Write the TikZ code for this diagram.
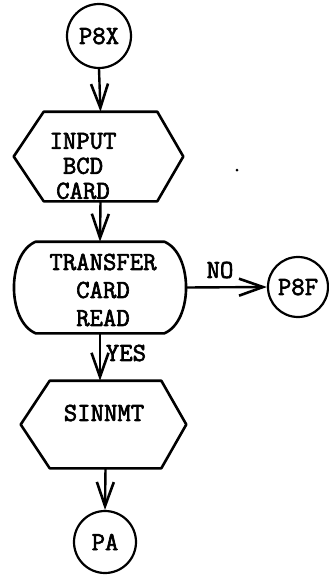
\documentclass[tikz,border=0pt]{standalone}
\usepackage{fontspec}
\usetikzlibrary{arrows.meta,calc}
\newfontfamily\twfont{Latin Modern Mono}[FakeBold=2.5]
\newcommand\flbl{\twfont\fontsize{26}{25}\selectfont}
\newcommand\flblb{\twfont\fontsize{26}{28}\selectfont}
\begin{document}
\begin{tikzpicture}[x=1pt,y=-1pt,
  line width=2.6pt, line join=round,
  conn/.style={line width=2.4pt,-{Straight Barb[length=24pt,width=17pt,line width=2.6pt]}},
  term/.style={circle,draw,line width=2.2pt,minimum size=#1,inner sep=0pt,font=\flbl},
  box/.style={rectangle,inner sep=0pt},
  txt/.style={align=center,inner sep=0pt,font=\flbl}]
\useasboundingbox (0,0) rectangle (329,576);

% terminals
\node[term=64pt] (px) at (99,36) {P8X};
\node[term=60pt] (pf) at (298,287) {P8F};
\node[term=62pt] (pa) at (105,542) {PA};

% input hexagon
\node[box, minimum width=111pt, minimum height=87pt] (inp) at (100.5,156.5) {};
\draw (inp.north west) -- (inp.north east) -- ($(inp.east)+(26,0)$) -- (inp.south east)
  -- (inp.south west) -- ($(inp.west)+(-30,0)$) -- cycle;
\node[txt] (t1) at (83,166) {INPUT\\BCD\\CARD};

% transfer decision (rounded sides)
\node[box, minimum width=126pt, minimum height=89pt] (tr) at (100,287.5) {};
\draw (tr.north west) -- (tr.north east) .. controls +(29,12) and +(29,-12) .. (tr.south east)
  -- (tr.south west) .. controls +(-29,-12) and +(-29,12) .. (tr.north west) -- cycle;
\node[txt, font=\flblb] (t2) at (103,290) {TRANSFER\\CARD\\READ};

% SINNMT hexagon
\node[box, minimum width=109pt, minimum height=85pt] (sn) at (105.5,424.5) {};
\draw (sn.north west) -- (sn.north east) -- ($(sn.east)+(25,0)$) -- (sn.south east)
  -- (sn.south west) -- ($(sn.west)+(-29,0)$) -- cycle;
\node[txt] (t3) at (104,413) {SINNMT};

% labels
\node[txt] (no) at (220,270) {NO};
\node[txt] (yes) at (126,353) {YES};

% speck
\fill (237,170) circle (1.5);

% connectors
\draw[conn] (px.south) -- (inp.north);
\draw[conn] (inp.south) -- (tr.north);
\draw[conn] ($(tr.east)+(22,0)$) -- (pf.west);
\draw[conn] (tr.south) -- (tr.south |- sn.north);
\draw[conn] (sn.south) -- (pa.north);
\end{tikzpicture}
\end{document}
